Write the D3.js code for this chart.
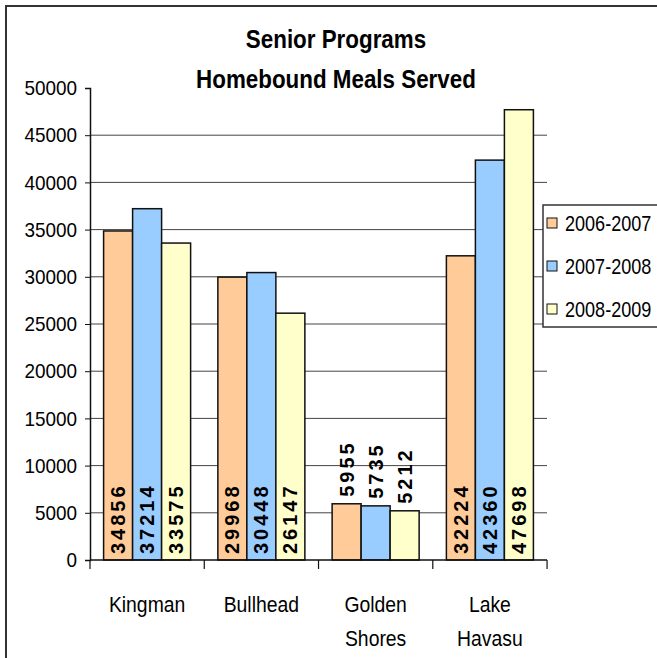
<!DOCTYPE html>
<html>
<head>
<meta charset="utf-8">
<script src="https://cdn.jsdelivr.net/npm/d3@7.9.0/dist/d3.min.js"></script>
<style>
  body { margin: 0; background: #fff; }
  svg { display: block; }
</style>
</head>
<body>
<svg id="chart"></svg>
<script>
const categories = [["Kingman"], ["Bullhead"], ["Golden", "Shores"], ["Lake", "Havasu"]];
const seasons = ["2006-2007", "2007-2008", "2008-2009"];
const meals2006 = [34856, 29968, 5955, 32224];
const meals2007 = [37214, 30448, 5735, 42360];
const meals2008 = [33575, 26147, 5212, 47698];
const yTicks = [0, 5000, 10000, 15000, 20000, 25000, 30000, 35000, 40000, 45000, 50000];

const seriesValues = [meals2006, meals2007, meals2008];
const colors = ["#ffcc99", "#99ccff", "#ffffcc"];
const font = "'Liberation Sans', Arial, sans-serif";

const svgWidth = 657, svgHeight = 658;
const plot = { left: 90, right: 547, top: 88, bottom: 560 };

// squeeze text horizontally to mimic a narrow face
function condense(sel, f) {
  sel.each(function() {
    const len = this.getComputedTextLength();
    d3.select(this).attr("textLength", len * f).attr("lengthAdjust", "spacingAndGlyphs");
  });
}

const svg = d3.select("#chart").attr("width", svgWidth).attr("height", svgHeight);

// outer chart border
svg.append("rect")
  .attr("x", 6).attr("y", 6)
  .attr("width", svgWidth + 10).attr("height", svgHeight + 10)
  .attr("fill", "none").attr("stroke", "#333").attr("stroke-width", 2);

const catKeys = categories.map((d, i) => i);
const x = d3.scaleBand().domain(catKeys).range([plot.left, plot.right])
  .paddingInner(0.2385).paddingOuter(0.119);
const xSub = d3.scaleBand().domain(d3.range(seasons.length)).range([0, x.bandwidth()]);
const y = d3.scaleLinear().domain([0, 50000]).range([plot.bottom, plot.top]);

// gridlines (none on the top value)
svg.append("g").selectAll("line").data(yTicks.filter(d => d > 0 && d < 50000)).join("line")
  .attr("x1", plot.left).attr("x2", plot.right)
  .attr("y1", d => y(d)).attr("y2", d => y(d))
  .attr("stroke", "#444").attr("stroke-width", 1);

// bars
const rows = [];
catKeys.forEach(ci => seriesValues.forEach((vals, si) => rows.push({ ci, si, v: vals[ci] })));

svg.append("g").selectAll("rect").data(rows).join("rect")
  .attr("x", d => x(d.ci) + xSub(d.si))
  .attr("y", d => y(d.v))
  .attr("width", xSub.bandwidth())
  .attr("height", d => y(0) - y(d.v))
  .attr("fill", d => colors[d.si])
  .attr("stroke", "#111").attr("stroke-width", 1.5);

// value labels, rotated
svg.append("g").selectAll("text").data(rows).join("text")
  .attr("transform", d => {
    const cx = x(d.ci) + xSub(d.si) + xSub.bandwidth() / 2 + 7;
    const h = y(0) - y(d.v);
    const yy = h > 80 ? y(0) - 6 : y(d.v) - 7;
    return `translate(${cx},${yy}) rotate(-90)`;
  })
  .attr("text-anchor", "start")
  .style("font-family", font)
  .style("font-weight", "bold")
  .style("font-size", "20px")
  .style("letter-spacing", "3px")
  .attr("fill", "#000")
  .text(d => d.v);

// y axis
const yAxis = d3.axisLeft(y).tickValues(yTicks).tickSize(5).tickPadding(8).tickFormat(d3.format("d"));
const yg = svg.append("g").attr("transform", `translate(${plot.left},0)`).call(yAxis);
yg.select(".domain").attr("stroke", "#111").attr("stroke-width", 1.5);
yg.selectAll(".tick line").attr("stroke", "#111");
yg.selectAll("text").style("font-family", font).style("font-size", "21px").attr("fill", "#000")
  .call(condense, 0.9);

// x axis with ticks at category boundaries
svg.append("line")
  .attr("x1", plot.left).attr("x2", plot.right)
  .attr("y1", y(0)).attr("y2", y(0))
  .attr("stroke", "#111").attr("stroke-width", 1.5);
const bounds = d3.range(categories.length + 1).map(i => plot.left + i * x.step());
svg.append("g").selectAll("line").data(bounds).join("line")
  .attr("x1", d => d).attr("x2", d => d)
  .attr("y1", y(0)).attr("y2", y(0) + 9)
  .attr("stroke", "#111").attr("stroke-width", 1.2);

const catRows = [];
catKeys.forEach(ci => categories[ci].forEach((t, li) => catRows.push({ ci, li, t })));
svg.append("g").selectAll("text").data(catRows).join("text")
  .attr("x", d => x(d.ci) + x.bandwidth() / 2)
  .attr("y", d => 612 + d.li * 34)
  .attr("text-anchor", "middle")
  .style("font-family", font)
  .style("font-size", "22px")
  .attr("fill", "#000")
  .text(d => d.t)
  .call(condense, 0.88);

// title
["Senior Programs", "Homebound Meals Served"].forEach((t, i) => {
  svg.append("text")
    .attr("x", 336).attr("y", 48 + i * 40)
    .attr("text-anchor", "middle")
    .style("font-family", font)
    .style("font-weight", "bold")
    .style("font-size", "25px")
    .attr("fill", "#000")
    .text(t)
    .call(condense, 0.895);
});

// legend
const legend = svg.append("g").attr("transform", "translate(543,205)");
legend.append("rect")
  .attr("x", 0).attr("y", 0).attr("width", 130).attr("height", 122)
  .attr("fill", "#fff").attr("stroke", "#333").attr("stroke-width", 1.5);
seasons.forEach((s, i) => {
  const cy = 18 + i * 43;
  legend.append("rect")
    .attr("x", 4).attr("y", cy - 5).attr("width", 10).attr("height", 10)
    .attr("fill", colors[i]).attr("stroke", "#111").attr("stroke-width", 1);
  legend.append("text")
    .attr("x", 22).attr("y", cy + 8)
    .style("font-family", font)
    .style("font-size", "22px")
    .attr("fill", "#000")
    .text(s)
    .call(condense, 0.82);
});
</script>
</body>
</html>
